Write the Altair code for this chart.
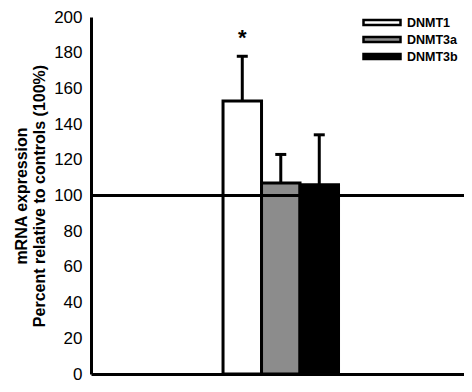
import altair as alt
import pandas as pd

genes = ["DNMT1", "DNMT3a", "DNMT3b"]
means = [153, 107, 106]
uppers = [178, 123, 134]
fills = ["#ffffff", "#8c8c8c", "#000000"]
star_gene = ["DNMT1"]
star_y = [188]
ref_value = [100]
y_ticks = [0, 20, 40, 60, 80, 100, 120, 140, 160, 180, 200]
x_domain = [-3.93, 5.76]

pos = list(range(len(genes)))
df = pd.DataFrame({
    "gene": genes,
    "mean": means,
    "upper": uppers,
    "pos": pos,
    "left": [p - 0.5 for p in pos],
    "right": [p + 0.5 for p in pos],
    "base": [0] * len(genes),
})
star_df = pd.DataFrame({"pos": [genes.index(g) for g in star_gene], "y": star_y, "t": ["*"]})
ref_df = pd.DataFrame({"v": ref_value})

FONT = "Liberation Sans"

xscale = alt.Scale(domain=x_domain, nice=False, zero=False)
xaxis = alt.Axis(labels=False, ticks=False, title=None, grid=False, domainColor="black", domainWidth=3)
yscale = alt.Scale(domain=[0, 200], nice=False)
yaxis = alt.Axis(
    values=y_ticks,
    title=["mRNA expression", "Percent relative to controls (100%)"],
    titleFont=FONT,
    titleFontSize=16,
    titleFontWeight="bold",
    titleColor="black",
    titleLineHeight=18,
    titlePadding=6,
    labelFont=FONT,
    labelFontSize=17,
    labelColor="black",
    labelPadding=9,
    labelOverlap=False,
    labelBound=False,
    ticks=False,
    grid=False,
    domainColor="black",
    domainWidth=3,
)

legend_path = "M-1,-0.14 L1,-0.14 L1,0.14 L-1,0.14 Z"

bars = alt.Chart(df).mark_bar(stroke="black", strokeWidth=3).encode(
    x=alt.X("left:Q", scale=xscale, axis=xaxis),
    x2="right:Q",
    y=alt.Y("mean:Q", scale=yscale, axis=yaxis),
    y2="base:Q",
    fill=alt.Fill(
        "gene:N",
        scale=alt.Scale(domain=genes, range=fills),
        legend=alt.Legend(
            title=None,
            orient="none",
            legendX=271,
            legendY=-1,
            symbolType=legend_path,
            symbolSize=1369,
            symbolStrokeColor="black",
            symbolStrokeWidth=2.5,
            symbolOpacity=1,
            labelFont=FONT,
            labelFontSize=12.5,
            labelFontWeight="bold",
            labelColor="black",
            labelOffset=5,
            clipHeight=13,
            rowPadding=4,
            padding=0,
        ),
    ),
)

err = alt.Chart(df).mark_rule(color="black", strokeWidth=3).encode(
    x=alt.X("pos:Q", scale=xscale),
    y=alt.Y("mean:Q", scale=yscale, axis=yaxis),
    y2="upper:Q",
)

caps = alt.Chart(df).mark_tick(color="black", thickness=3, size=11, opacity=1, orient="horizontal").encode(
    x=alt.X("pos:Q", scale=xscale),
    y=alt.Y("upper:Q", scale=yscale, axis=yaxis),
)

ref = alt.Chart(ref_df).mark_rule(color="black", strokeWidth=3).encode(
    y=alt.Y("v:Q", scale=yscale, axis=yaxis),
)

star = alt.Chart(star_df).mark_text(font=FONT, fontSize=22, fontWeight="bold", color="black", baseline="middle").encode(
    x=alt.X("pos:Q", scale=xscale),
    y=alt.Y("y:Q", scale=yscale, axis=yaxis),
    text="t:N",
)

chart = (
    alt.layer(bars, ref, err, caps, star)
    .properties(
        width=373,
        height=357,
        padding={"left": 83, "top": 9, "right": 0, "bottom": 10},
        autosize=alt.AutoSizeParams(type="none"),
    )
    .configure_view(stroke=None)
    .configure_axisY(labelOverlap=False)
)

chart.save("out.html", embed_options={"renderer": "svg", "actions": False})
